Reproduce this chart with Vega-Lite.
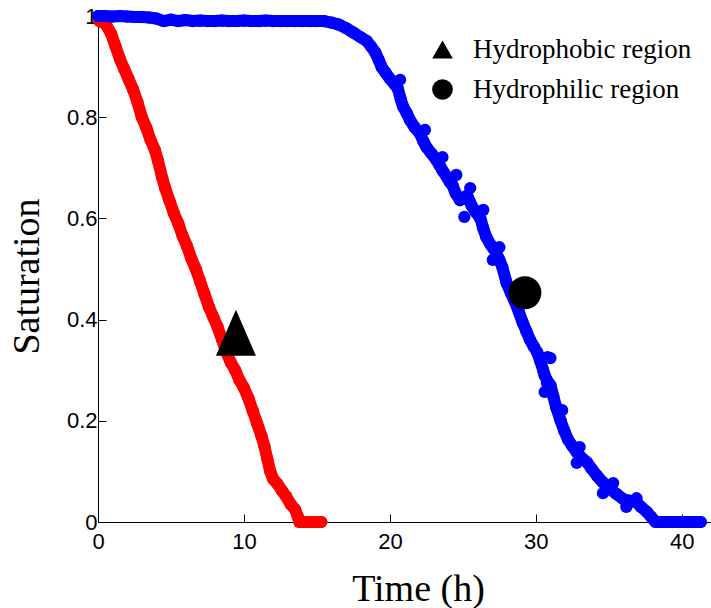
{
  "$schema": "https://vega.github.io/schema/vega-lite/v6.json",
  "width": 613,
  "height": 506,
  "autosize": {"type": "none"},
  "padding": {"left": 98, "top": 16, "right": 0, "bottom": 86},
  "background": "white",
  "config": {
    "view": {"stroke": null},
    "axis": {"grid": false}
  },
  "datasets": {
    "red": [
      {"t": 0.1, "s": 0.99}, {"t": 0.5, "s": 0.985}, {"t": 0.9, "s": 0.965}, {"t": 1.2, "s": 0.94},
      {"t": 1.5, "s": 0.915}, {"t": 1.8, "s": 0.895}, {"t": 2.1, "s": 0.875}, {"t": 2.4, "s": 0.855},
      {"t": 2.7, "s": 0.83}, {"t": 3.0, "s": 0.8}, {"t": 3.3, "s": 0.78}, {"t": 3.6, "s": 0.755},
      {"t": 3.9, "s": 0.735}, {"t": 4.1, "s": 0.715}, {"t": 4.4, "s": 0.68}, {"t": 4.6, "s": 0.66},
      {"t": 4.9, "s": 0.635}, {"t": 5.2, "s": 0.61}, {"t": 5.5, "s": 0.59}, {"t": 5.8, "s": 0.565},
      {"t": 6.1, "s": 0.545}, {"t": 6.4, "s": 0.52}, {"t": 6.7, "s": 0.5}, {"t": 7.0, "s": 0.475},
      {"t": 7.3, "s": 0.45}, {"t": 7.6, "s": 0.425}, {"t": 7.9, "s": 0.405}, {"t": 8.2, "s": 0.385},
      {"t": 8.5, "s": 0.36}, {"t": 8.8, "s": 0.335}, {"t": 9.1, "s": 0.315}, {"t": 9.4, "s": 0.3},
      {"t": 9.7, "s": 0.28}, {"t": 10.0, "s": 0.265}, {"t": 10.3, "s": 0.245}, {"t": 10.6, "s": 0.22},
      {"t": 10.9, "s": 0.195}, {"t": 11.2, "s": 0.17}, {"t": 11.4, "s": 0.15}, {"t": 11.6, "s": 0.125},
      {"t": 11.8, "s": 0.1}, {"t": 12.0, "s": 0.085}, {"t": 12.3, "s": 0.075}, {"t": 12.6, "s": 0.062},
      {"t": 12.9, "s": 0.05}, {"t": 13.2, "s": 0.035}, {"t": 13.5, "s": 0.025}, {"t": 13.7, "s": 0.01},
      {"t": 13.8, "s": 0.0}, {"t": 14.2, "s": 0.0}, {"t": 14.6, "s": 0.0}, {"t": 15.0, "s": 0.0},
      {"t": 15.3, "s": 0.0}
    ],
    "blue": [
      {"t": 0, "s": 1.0}, {"t": 0.5, "s": 1.0}, {"t": 1, "s": 0.999}, {"t": 1.5, "s": 1.0},
      {"t": 2, "s": 0.999}, {"t": 2.5, "s": 0.998}, {"t": 3, "s": 0.998}, {"t": 3.5, "s": 0.997},
      {"t": 4, "s": 0.995}, {"t": 4.5, "s": 0.99}, {"t": 5, "s": 0.993}, {"t": 5.5, "s": 0.99},
      {"t": 6, "s": 0.992}, {"t": 6.5, "s": 0.99}, {"t": 7, "s": 0.991}, {"t": 7.5, "s": 0.99},
      {"t": 8, "s": 0.99}, {"t": 8.5, "s": 0.991}, {"t": 9, "s": 0.99}, {"t": 9.5, "s": 0.99},
      {"t": 10, "s": 0.991}, {"t": 10.5, "s": 0.99}, {"t": 11, "s": 0.99}, {"t": 11.5, "s": 0.991},
      {"t": 12, "s": 0.99}, {"t": 12.5, "s": 0.99}, {"t": 13, "s": 0.99}, {"t": 13.5, "s": 0.99},
      {"t": 14, "s": 0.99}, {"t": 14.5, "s": 0.99}, {"t": 15, "s": 0.99}, {"t": 15.5, "s": 0.99},
      {"t": 16, "s": 0.987}, {"t": 16.5, "s": 0.983}, {"t": 17, "s": 0.976}, {"t": 17.5, "s": 0.967},
      {"t": 18, "s": 0.958}, {"t": 18.4, "s": 0.951}, {"t": 18.7, "s": 0.94}, {"t": 19.0, "s": 0.928},
      {"t": 19.25, "s": 0.912}, {"t": 19.45, "s": 0.898}, {"t": 19.7, "s": 0.888}, {"t": 20.0, "s": 0.876},
      {"t": 20.3, "s": 0.866}, {"t": 20.55, "s": 0.856}, {"t": 20.75, "s": 0.835}, {"t": 20.9, "s": 0.821},
      {"t": 21.15, "s": 0.808}, {"t": 21.4, "s": 0.793}, {"t": 21.7, "s": 0.78}, {"t": 22.05, "s": 0.768},
      {"t": 22.3, "s": 0.752}, {"t": 22.5, "s": 0.741}, {"t": 22.85, "s": 0.728}, {"t": 23.2, "s": 0.715},
      {"t": 23.4, "s": 0.705}, {"t": 23.6, "s": 0.695}, {"t": 23.9, "s": 0.682}, {"t": 24.1, "s": 0.672},
      {"t": 24.3, "s": 0.665}, {"t": 24.5, "s": 0.65}, {"t": 24.8, "s": 0.636}, {"t": 25.3, "s": 0.645},
      {"t": 25.6, "s": 0.625}, {"t": 25.9, "s": 0.612}, {"t": 26.2, "s": 0.6}, {"t": 26.4, "s": 0.58},
      {"t": 26.6, "s": 0.563}, {"t": 26.9, "s": 0.548}, {"t": 27.3, "s": 0.531}, {"t": 27.5, "s": 0.518},
      {"t": 27.7, "s": 0.504}, {"t": 28.0, "s": 0.472}, {"t": 28.3, "s": 0.452}, {"t": 28.6, "s": 0.433},
      {"t": 28.85, "s": 0.414}, {"t": 29.1, "s": 0.394}, {"t": 29.35, "s": 0.377}, {"t": 29.6, "s": 0.36},
      {"t": 29.85, "s": 0.347}, {"t": 30.1, "s": 0.335}, {"t": 30.3, "s": 0.318}, {"t": 30.5, "s": 0.3},
      {"t": 30.6, "s": 0.29}, {"t": 30.8, "s": 0.278}, {"t": 31.0, "s": 0.27}, {"t": 31.2, "s": 0.248},
      {"t": 31.4, "s": 0.226}, {"t": 31.7, "s": 0.2}, {"t": 31.95, "s": 0.18}, {"t": 32.2, "s": 0.163},
      {"t": 32.5, "s": 0.15}, {"t": 32.8, "s": 0.138}, {"t": 33.1, "s": 0.128}, {"t": 33.5, "s": 0.118},
      {"t": 33.8, "s": 0.106}, {"t": 34.2, "s": 0.091}, {"t": 34.6, "s": 0.078}, {"t": 35.1, "s": 0.065},
      {"t": 35.5, "s": 0.056}, {"t": 36.0, "s": 0.045}, {"t": 36.4, "s": 0.042}, {"t": 36.9, "s": 0.039},
      {"t": 37.2, "s": 0.03}, {"t": 37.6, "s": 0.02}, {"t": 37.9, "s": 0.01}, {"t": 38.2, "s": 0.0},
      {"t": 38.6, "s": 0.0}, {"t": 39.0, "s": 0.0}, {"t": 39.5, "s": 0.0}, {"t": 40.0, "s": 0.0},
      {"t": 40.5, "s": 0.0}, {"t": 41.0, "s": 0.0}, {"t": 41.3, "s": 0.0}
    ],
    "blueExtra": [
      {"t": 20.7, "s": 0.874}, {"t": 22.4, "s": 0.775}, {"t": 23.6, "s": 0.721}, {"t": 24.55, "s": 0.686},
      {"t": 25.1, "s": 0.603}, {"t": 25.5, "s": 0.66}, {"t": 26.4, "s": 0.617}, {"t": 27.05, "s": 0.518},
      {"t": 27.5, "s": 0.543}, {"t": 30.6, "s": 0.257}, {"t": 30.75, "s": 0.275}, {"t": 30.8, "s": 0.326},
      {"t": 31.0, "s": 0.324}, {"t": 31.8, "s": 0.221}, {"t": 32.8, "s": 0.117}, {"t": 33.0, "s": 0.148},
      {"t": 34.6, "s": 0.057}, {"t": 35.3, "s": 0.077}, {"t": 36.2, "s": 0.03}, {"t": 36.9, "s": 0.047}
    ],
    "markers": [
      {"region": "Hydrophobic region", "t": 9.45, "s": 0.374},
      {"region": "Hydrophilic region", "t": 29.25, "s": 0.453}
    ]
  },
  "encoding": {
    "x": {
      "field": "t", "type": "quantitative",
      "scale": {"domain": [0, 42], "nice": false, "zero": false},
      "axis": {
        "title": "Time (h)",
        "values": [0, 10, 20, 30, 40],
        "format": "d",
        "domainColor": "#000000", "domainWidth": 1,
        "tickColor": "#000000", "tickSize": -8, "tickWidth": 1,
        "labelFont": "Liberation Sans", "labelFontSize": 22, "labelColor": "#000000",
        "labelPadding": 17, "labelFlush": false,
        "titleFont": "Liberation Serif", "titleFontSize": 38, "titleFontWeight": "normal", "titleColor": "#000000",
        "titleBaseline": "alphabetic", "titleX": 320, "titleY": 78
      }
    },
    "y": {
      "field": "s", "type": "quantitative",
      "scale": {"domain": [0, 1], "nice": false, "zero": false},
      "axis": {
        "title": "Saturation",
        "values": [0, 0.2, 0.4, 0.6, 0.8, 1],
        "format": "~g",
        "domainColor": "#000000", "domainWidth": 1,
        "tickColor": "#000000", "tickSize": -8, "tickWidth": 1,
        "labelFont": "Liberation Sans", "labelFontSize": 22, "labelColor": "#000000",
        "labelPadding": 9, "labelFlush": false,
        "titleFont": "Liberation Serif", "titleFontSize": 38, "titleFontWeight": "normal", "titleColor": "#000000",
        "titleBaseline": "alphabetic", "titleX": -60, "titleY": 260, "titleAngle": 270
      }
    }
  },
  "layer": [
    {
      "data": {"name": "red"},
      "mark": {"type": "line", "color": "#ff0000", "strokeWidth": 12, "strokeCap": "round", "strokeJoin": "round"},
      "encoding": {}
    },
    {
      "data": {"name": "red"},
      "mark": {"type": "circle", "color": "#ff0000", "opacity": 1, "size": 150}
    },
    {
      "data": {"name": "blue"},
      "mark": {"type": "line", "color": "#0000ff", "strokeWidth": 12, "strokeCap": "round", "strokeJoin": "round"},
      "encoding": {}
    },
    {
      "data": {"name": "blue"},
      "mark": {"type": "circle", "color": "#0000ff", "opacity": 1, "size": 150}
    },
    {
      "data": {"name": "blueExtra"},
      "mark": {"type": "circle", "color": "#0000ff", "opacity": 1, "size": 150}
    },
    {
      "data": {"name": "markers"},
      "transform": [{"filter": "datum.region === 'Hydrophilic region'"}],
      "mark": {"type": "point", "filled": true, "opacity": 1, "color": "#000000", "size": 1089},
      "encoding": {
        "shape": {
          "field": "region", "type": "nominal",
          "scale": {"domain": ["Hydrophobic region", "Hydrophilic region"], "range": ["triangle-up", "circle"]},
          "legend": {
            "title": null,
            "orient": "none",
            "legendX": 331,
            "legendY": 20,
            "padding": 0,
            "symbolSize": 430,
            "symbolFillColor": "#000000",
            "symbolStrokeColor": "#000000",
            "symbolStrokeWidth": 0,
            "symbolOpacity": 1,
            "labelFont": "Liberation Serif",
            "labelFontSize": 27,
            "labelColor": "#000000",
            "labelOffset": 17,
            "labelLimit": 400,
            "rowPadding": 12
          }
        }
      }
    },
    {
      "data": {"name": "markers"},
      "transform": [{"filter": "datum.region === 'Hydrophobic region'"}],
      "mark": {"type": "point", "filled": true, "opacity": 1, "color": "#000000", "size": 1600, "shape": "M0,-1.15L-1,1.15L1,1.15Z"},
      "encoding": {}
    }
  ]
}
